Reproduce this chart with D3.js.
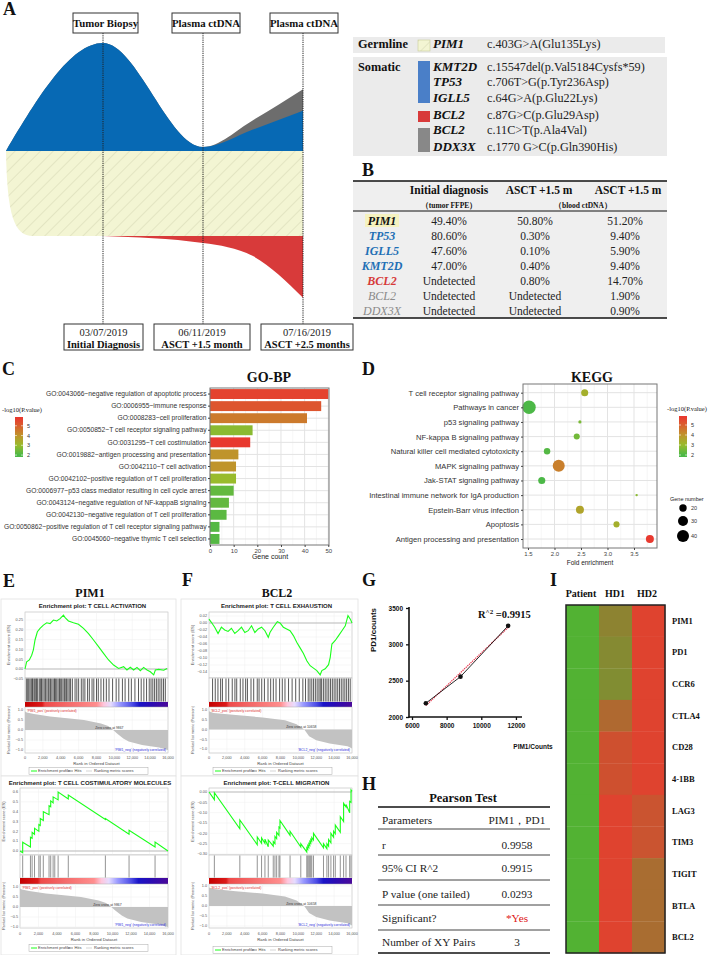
<!DOCTYPE html>
<html><head><meta charset="utf-8">
<script src="https://cdn.jsdelivr.net/npm/d3@7"></script>
<style>body{margin:0;background:#fff}</style>
</head><body><svg id="c" width="716" height="955"></svg>
<script>
// ================= DATA =================
// Panel A fish plot (clone sizes at time points)
const fishT = [-0.97, 0, 1, 1.5, 2];
const blueClone = [0, 80.6, 3, 16, 30];
const greyClone = [0, 0, 0, 7, 16];
const redClone = [0, 0, 5.2, 15, 46];
const topBoxes = ["Tumor Biopsy", "Plasma ctDNA", "Plasma ctDNA"];
const timeDates = ["03/07/2019", "06/11/2019", "07/16/2019"];
const timeLabels = ["Initial Diagnosis", "ASCT +1.5 month", "ASCT +2.5 months"];
// Panel A legend
const legGenes = ["PIM1", "KMT2D", "TP53", "IGLL5", "BCL2", "BCL2", "DDX3X"];
const legMut = ["c.403G>A(Glu135Lys)", "c.15547del(p.Val5184Cysfs*59)", "c.706T>G(p.Tyr236Asp)",
  "c.64G>A(p.Glu22Lys)", "c.87G>C(p.Glu29Asp)", "c.11C>T(p.Ala4Val)", "c.1770 G>C(p.Gln390His)"];
// Panel B table
const tabGenes = ["PIM1", "TP53", "IGLL5", "KMT2D", "BCL2", "BCL2", "DDX3X"];
const tabGroup = ["germ", "blue", "blue", "blue", "red", "grey", "grey"];
const tabHeaders = ["Initial diagnosis", "ASCT +1.5 m", "ASCT +1.5 m"];
const tabInitial = ["49.40%", "80.60%", "47.60%", "47.00%", "Undetected", "Undetected", "Undetected"];
const tabASCT1 = ["50.80%", "0.30%", "0.10%", "0.40%", "0.80%", "Undetected", "Undetected"];
const tabASCT2 = ["51.20%", "9.40%", "5.90%", "9.40%", "14.70%", "1.90%", "0.90%"];
// Panel C GO-BP
const goTerms = ["GO:0043066~negative regulation of apoptotic process", "GO:0006955~immune response",
  "GO:0008283~cell proliferation", "GO:0050852~T cell receptor signaling pathway", "GO:0031295~T cell costimulation",
  "GO:0019882~antigen processing and presentation", "GO:0042110~T cell activation",
  "GO:0042102~positive regulation of T cell proliferation", "GO:0006977~p53 class mediator resulting in cell cycle arrest",
  "GO:0043124~negative regulation of NF-kappaB signaling", "GO:0042130~negative regulation of T cell proliferation",
  "GO:0050862~positive regulation of T cell receptor signaling pathway", "GO:0045060~negative thymic T cell selection"];
const goCount = [50, 47, 41, 18, 17, 12, 11, 11, 10, 8, 7, 4, 4];
const goLogP = [5.6, 5.2, 4.5, 2.8, 5.8, 4.0, 4.0, 3.0, 2.3, 2.3, 2.2, 2.1, 2.1];
const countTicks = [0, 10, 20, 30, 40, 50];
// Panel D KEGG
const keggTerms = ["T cell receptor signaling pathway", "Pathways in cancer", "p53 signaling pathway",
  "NF-kappa B signaling pathway", "Natural killer cell mediated cytotoxicity", "MAPK signaling pathway",
  "Jak-STAT signaling pathway", "Intestinal immune network for IgA production", "Epstein-Barr virus infection",
  "Apoptosis", "Antigen processing and presentation"];
const keggFold = [2.57, 1.52, 2.48, 2.42, 1.86, 2.08, 1.76, 3.55, 2.48, 3.17, 3.8];
const keggGenes = [19, 48, 10, 16, 17, 40, 19, 9, 22, 16, 22];
const keggLogP = [3.3, 2.0, 2.6, 2.5, 2.1, 4.4, 2.0, 2.8, 3.6, 3.3, 5.8];
const foldTicks = [1.5, 2.0, 2.5, 3.0, 3.5];
const geneLegend = [20, 30, 40];
const pLegend = [5, 4, 3, 2];
// Panel E/F GSEA
const rankTicks = [0, 2000, 4000, 6000, 8000, 10000, 12000, 14000, 16000];
const esE1 = [[0,0],[187,0.037],[486,0.046],[748,0.07],[935,0.097],[1122,0.148],[1384,0.19],[1683,0.207],[2057,0.224],[2431,0.236],[2805,0.232],[3179,0.25],[3553,0.245],[3927,0.257],[4301,0.275],[4488,0.262],[4862,0.245],[5423,0.236],[5984,0.228],[6545,0.207],[7106,0.18],[7667,0.148],[8228,0.114],[8789,0.08],[9350,0.046],[9911,0.02],[10472,0.003],[11033,0.012],[11407,-0.005],[11781,0.009],[12155,-0.005],[12529,0.008],[12903,-0.009],[13277,0.008],[13651,-0.005],[14025,-0.014],[14399,-0.03],[14586,-0.005],[14960,-0.002],[15521,-0.006],[15895,0.003]];
const hitsE1 = [150,300,420,560,700,820,900,1050,1200,1300,1420,1600,1750,1850,2000,2150,2300,2450,2600,2700,2850,3000,3150,3300,3400,3550,3700,3850,3950,4100,4250,4400,4500,4650,4800,4950,5100,5300,5600,5800,6000,6300,6500,6700,7000,7200,7500,7700,8000,8200,8500,8800,9100,9400,9800,10200,10500,10900,11200,11600,11900,12300,12700,13000,13300,13600,13900,14100,14300,14500,14700,14900,15100,15300,15500,15700];
const esE2 = [[0,0],[290,-0.018],[290,0.088],[1130,0.04],[1130,0.14],[1310,0.13],[1310,0.19],[1570,0.17],[1570,0.23],[2040,0.2],[2040,0.27],[2190,0.26],[2190,0.33],[2520,0.31],[2520,0.4],[3140,0.37],[3140,0.46],[3320,0.45],[3320,0.51],[3580,0.49],[3580,0.55],[3760,0.54],[3760,0.54],[4120,0.52],[4120,0.6],[5220,0.53],[5220,0.57],[9230,0.32],[9230,0.33],[11790,0.17],[11790,0.21],[14600,0.04],[14600,0.09],[16000,0]];
const hitsE2 = [290,1130,1310,1570,2040,2190,2520,3140,3320,3580,3760,4120,5220,9230,11790,14600];
const esF1 = [[0,0.011],[262,0.002],[637,-0.012],[1012,-0.03],[1386,-0.012],[1761,-0.02],[2136,-0.024],[2510,-0.015],[2885,-0.03],[3260,-0.022],[3635,-0.012],[4009,-0.027],[4384,-0.022],[4759,-0.008],[5133,-0.027],[5508,-0.017],[5883,-0.012],[6257,-0.022],[6632,-0.041],[6820,-0.027],[7194,-0.012],[7644,0.004],[7944,0],[8318,-0.012],[8693,-0.017],[9068,-0.022],[9442,-0.036],[9817,-0.055],[10192,-0.071],[10567,-0.087],[10941,-0.108],[11316,-0.122],[11691,-0.129],[12065,-0.136],[12440,-0.148],[12627,-0.136],[13002,-0.131],[13377,-0.119],[13565,-0.098],[13752,-0.06],[14126,-0.05],[14501,-0.036],[14876,-0.022],[15250,-0.008],[15550,0.021],[15812,0.011],[16000,0]];
const hitsF1 = [400,700,1000,1300,1500,1900,2200,2600,2900,3100,3500,3800,4100,4300,4700,5000,5400,5600,5900,6200,6600,6900,7200,7500,7900,8200,8500,8900,9300,9700,10100,10500,10800,11100,11300,11500,11700,11900,12100,12300,12450,12600,12800,13000,13200,13400,13600,13800,14000,14200,14400,14600,14800,15000,15200,15400,15600,15800];
const esF2 = [[0,0],[600,-0.037],[600,-0.003],[3450,-0.178],[3450,-0.135],[5400,-0.255],[5400,-0.218],[5880,-0.248],[5880,-0.222],[6260,-0.248],[6260,-0.228],[6630,-0.265],[6630,-0.232],[7190,-0.262],[7190,-0.24],[7380,-0.25],[7380,-0.215],[7570,-0.226],[7570,-0.195],[7830,-0.21],[7830,-0.17],[7940,-0.175],[7940,-0.138],[9070,-0.21],[9070,-0.19],[10270,-0.266],[10270,-0.25],[10940,-0.29],[10940,-0.27],[11050,-0.277],[11050,-0.26],[11170,-0.268],[11170,-0.25],[11280,-0.257],[11280,-0.24],[11390,-0.247],[11390,-0.23],[11500,-0.237],[11500,-0.22],[11690,-0.232],[11690,-0.2],[12810,-0.27],[12810,-0.25],[13190,-0.274],[13190,-0.25],[13380,-0.262],[13380,-0.23],[13640,-0.246],[13640,-0.2],[13940,-0.219],[13940,-0.19],[14130,-0.202],[14130,-0.16],[14690,-0.195],[14690,-0.12],[15060,-0.143],[15060,-0.055],[15330,-0.072],[15330,-0.06],[15740,-0.1],[15740,-0.045],[15890,-0.05],[15890,0.01],[16000,0.003]];
const hitsF2 = [600,3450,5400,5880,6260,6630,7190,7380,7570,7830,7940,9070,10270,10940,11050,11170,11280,11390,11500,11690,12810,13190,13380,13640,13940,14130,14690,15060,15330,15740,15890];
const metricPIM1 = [[0,0.93],[200,0.87],[1000,0.8],[2800,0.67],[5000,0.57],[6600,0.5],[8500,0.33],[9300,0.2],[9867,0],[10300,-0.17],[11000,-0.42],[11600,-0.58],[13100,-0.75],[15000,-0.88],[15800,-0.98],[16000,-1.0]];
const metricBCL2 = [[0,0.93],[500,0.85],[3000,0.74],[6000,0.62],[8500,0.47],[9800,0.27],[10658,0],[11200,-0.35],[12000,-0.55],[13500,-0.72],[15500,-0.86],[15900,-0.95],[16000,-0.97]];
// Panel G
const pim1Counts = [6800, 8800, 11550];
const pd1Counts = [2190, 2555, 3255];
const gXTicks = [6000, 8000, 10000, 12000];
const gYTicks = [2000, 2500, 3000, 3500];
// Panel H
const pearsonParams = ["Parameters", "r", "95% CI R^2", "P value (one tailed)", "Significant?", "Number of XY Pairs"];
const pearsonValues = ["PIM1，PD1", "0.9958", "0.9915", "0.0293", "*Yes", "3"];
// Panel I heatmap (0 = green, 1 = red)
const heatGenes = ["PIM1", "PD1", "CCR6", "CTLA4", "CD28", "4-1BB", "LAG3", "TIM3", "TIGIT", "BTLA", "BCL2"];
const heatSamples = ["Patient", "HD1", "HD2"];
const heatPatient = [0, 0, 0, 0, 0, 0, 0, 0, 0, 0, 0];
const heatHD1 = [0.42, 0.36, 0.33, 0.66, 0.88, 0.88, 1, 1, 1, 1, 1];
const heatHD2 = [1, 1, 1, 1, 1, 1, 0.85, 0.85, 0.62, 0.62, 0.62];

// ================= DRAW =================
const SERIF = "'Liberation Serif','Times New Roman',serif";
const SANS = "'Liberation Sans',Arial,sans-serif";
const svg = d3.select("#c");
const defs = svg.append("defs");
const hatch = defs.append("pattern").attr("id", "hatch").attr("width", 9).attr("height", 9)
  .attr("patternUnits", "userSpaceOnUse").attr("patternTransform", "rotate(45)");
hatch.append("rect").attr("width", 9).attr("height", 9).attr("fill", "#f3f5d3");
hatch.append("line").attr("x1", 0).attr("y1", 0).attr("x2", 0).attr("y2", 9).attr("stroke", "#d3d6b2").attr("stroke-width", 1);

function txt(g, x, y, s, o = {}) {
  const t = g.append("text").attr("x", x).attr("y", y).text(s)
    .attr("font-family", o.ff || SERIF).attr("font-size", o.fs || 10)
    .attr("fill", o.fill || "#111").attr("text-anchor", o.anchor || "start");
  if (o.fw) t.attr("font-weight", o.fw);
  if (o.fst) t.attr("font-style", o.fst);
  if (o.rot) t.attr("transform", `rotate(${o.rot},${x},${y})`);
  return t;
}
const panelLabels = [["A", 3, 15], ["B", 362, 176], ["C", 2, 375], ["D", 362, 375], ["E", 3, 587], ["F", 182, 586], ["G", 362, 586], ["H", 362, 790], ["I", 550, 586]];
panelLabels.forEach(p => txt(svg, p[1], p[2], p[0], { fs: 18, fw: "bold" }));

// ---------- Panel A ----------
(function () {
  const g = svg.append("g");
  const x = d3.scaleLinear().domain([0, 2]).range([103, 303]);
  const base = 151, low = 236, k = 1.34;
  const pts = fishT.map((t, i) => ({ t, b: blueClone[i], gr: greyClone[i], r: redClone[i] }));
  g.append("path").datum(pts).attr("fill", "#6d6d6d")
    .attr("d", d3.area().x(d => x(d.t)).y0(base).y1(d => base - (d.b + d.gr) * k).curve(d3.curveMonotoneX));
  g.append("path").datum(pts).attr("fill", "#0769b4")
    .attr("d", d3.area().x(d => x(d.t)).y0(base).y1(d => base - d.b * k).curve(d3.curveMonotoneX));
  const p = d3.path();
  p.moveTo(x(fishT[0]), base); p.lineTo(x(2), base); p.lineTo(x(2), low); p.lineTo(33, low);
  p.bezierCurveTo(14, low, 7, 215, x(fishT[0]), base); p.closePath();
  g.append("path").attr("d", p.toString()).attr("fill", "url(#hatch)");
  g.append("path").datum(pts.slice(1)).attr("fill", "#d83a3a")
    .attr("d", d3.area().x(d => x(d.t)).y0(low).y1(d => low + d.r * k).curve(d3.curveMonotoneX));
  const topB = [[73, 138], [172, 240], [270, 338]];
  const botB = [[64, 143], [154, 250], [261, 353]];
  [0, 1, 2].forEach(i => {
    g.append("line").attr("x1", x(i)).attr("x2", x(i)).attr("y1", 33).attr("y2", 324)
      .attr("stroke", "#222").attr("stroke-width", 1).attr("stroke-dasharray", "1.2,1");
    g.append("rect").attr("x", topB[i][0]).attr("y", 13).attr("width", topB[i][1] - topB[i][0]).attr("height", 20)
      .attr("fill", "#fff").attr("stroke", "#333").attr("stroke-width", 1);
    txt(g, (topB[i][0] + topB[i][1]) / 2, 27, topBoxes[i], { fs: 10.8, fw: "bold", anchor: "middle" });
    g.append("rect").attr("x", botB[i][0]).attr("y", 324).attr("width", botB[i][1] - botB[i][0]).attr("height", 26)
      .attr("fill", "#fff").attr("stroke", "#333").attr("stroke-width", 1);
    txt(g, (botB[i][0] + botB[i][1]) / 2, 336, timeDates[i], { fs: 10.5, anchor: "middle", fill: "#222" });
    txt(g, (botB[i][0] + botB[i][1]) / 2, 348, timeLabels[i], { fs: 10.5, fw: "bold", anchor: "middle" });
  });
  g.append("rect").attr("x", 353).attr("y", 37).attr("width", 312).attr("height", 16).attr("fill", "#ebebeb");
  g.append("rect").attr("x", 353).attr("y", 57).attr("width", 314).attr("height", 99).attr("fill", "#ebebeb");
  txt(g, 358, 48, "Germline", { fs: 12.3, fw: "bold" });
  txt(g, 358, 71, "Somatic", { fs: 12.3, fw: "bold" });
  g.append("rect").attr("x", 418).attr("y", 40).attr("width", 12).attr("height", 11).attr("fill", "url(#hatch)").attr("stroke", "#c9cc9a").attr("stroke-width", 0.6);
  g.append("rect").attr("x", 418).attr("y", 61).attr("width", 12).attr("height", 42).attr("fill", "#4a7fc8");
  g.append("rect").attr("x", 418).attr("y", 111).attr("width", 12).attr("height", 11).attr("fill", "#d83a3a");
  g.append("rect").attr("x", 418).attr("y", 128).attr("width", 12).attr("height", 24).attr("fill", "#888");
  const legY = [48, 71, 86, 102, 119, 134, 151];
  legGenes.forEach((s, i) => {
    txt(g, 433, legY[i], s, { fs: 13, fw: "bold", fst: "italic" });
    txt(g, 487, legY[i], legMut[i], { fs: 12.2, fill: "#222" });
  });
})();

// ---------- Panel B ----------
(function () {
  const g = svg.append("g");
  g.append("rect").attr("x", 353).attr("y", 181).attr("width", 314).attr("height", 137).attr("fill", "#efefef");
  [[181, 1.5], [211, 1], [318, 1.5]].forEach(l => g.append("line").attr("x1", 353).attr("x2", 667).attr("y1", l[0]).attr("y2", l[0]).attr("stroke", "#111").attr("stroke-width", l[1]));
  const cx = [449, 535, 625];
  tabHeaders.forEach((h, i) => txt(g, [449, 539, 628][i], 194, h, { fs: 11.5, fw: "bold", anchor: "middle" }));
  txt(g, 449, 208, "（tumor FFPE）", { fs: 7.5, fw: "bold", anchor: "middle" });
  txt(g, 583, 208, "（blood ctDNA）", { fs: 7.5, fw: "bold", anchor: "middle" });
  const rowY = [225, 240, 255, 270, 285, 300, 315];
  const col = { germ: "#111", blue: "#1f6fb5", red: "#d63a3a", grey: "#8a8a8a" };
  g.append("rect").attr("x", 365).attr("y", 214).attr("width", 34).attr("height", 13).attr("fill", "#f5f2bf");
  tabGenes.forEach((s, i) => {
    txt(g, 382, rowY[i], s, { fs: 12, fw: tabGroup[i] === "grey" ? "normal" : "bold", fst: "italic", anchor: "middle", fill: col[tabGroup[i]] });
    txt(g, cx[0], rowY[i], tabInitial[i], { fs: 11.5, anchor: "middle", fill: "#222" });
    txt(g, cx[1], rowY[i], tabASCT1[i], { fs: 11.5, anchor: "middle", fill: "#222" });
    txt(g, cx[2], rowY[i], tabASCT2[i], { fs: 11.5, anchor: "middle", fill: "#222" });
  });
})();

const pScale = d3.scaleLinear().domain([2, 3, 4, 5, 5.8]).range(["#4cb847", "#99bb2c", "#bf942b", "#d95f2d", "#e8392f"]);
function pLegendDraw(g, tx, ty, bx, by0, by1, lx, id) {
  const grad = defs.append("linearGradient").attr("id", id).attr("x1", 0).attr("x2", 0).attr("y1", 1).attr("y2", 0);
  [2, 3, 4, 5, 5.8].forEach(v => grad.append("stop").attr("offset", (v - 1.8) / 4.1).attr("stop-color", pScale(v)));
  txt(g, tx, ty, "-log10(P.value)", { fs: 6.5, fill: "#222" });
  g.append("rect").attr("x", bx).attr("y", by0).attr("width", 8).attr("height", by1 - by0).attr("fill", `url(#${id})`);
  const sy = d3.scaleLinear().domain([1.8, 5.9]).range([by1, by0]);
  pLegend.forEach(v => {
    g.append("line").attr("x1", bx).attr("x2", bx + 2).attr("y1", sy(v)).attr("y2", sy(v)).attr("stroke", "#fff").attr("stroke-width", 0.6);
    g.append("line").attr("x1", bx + 6).attr("x2", bx + 8).attr("y1", sy(v)).attr("y2", sy(v)).attr("stroke", "#fff").attr("stroke-width", 0.6);
    txt(g, lx, sy(v) + 2, v, { fs: 5.5, ff: SANS, fill: "#333" });
  });
}

// ---------- Panel C ----------
(function () {
  const g = svg.append("g");
  const x = d3.scaleLinear().domain([0, 50.3]).range([210, 329]);
  const y = d3.scaleBand().domain(goTerms).range([388, 545]).paddingInner(0.18).paddingOuter(0.09);
  g.append("rect").attr("x", 210).attr("y", 388).attr("width", 119).attr("height", 157).attr("fill", "#fff");
  [5, 15, 25, 35, 45].forEach(v => g.append("line").attr("x1", x(v)).attr("x2", x(v)).attr("y1", 388).attr("y2", 545).attr("stroke", "#f0f0f0").attr("stroke-width", 0.6));
  countTicks.forEach(v => g.append("line").attr("x1", x(v)).attr("x2", x(v)).attr("y1", 388).attr("y2", 545).attr("stroke", "#e3e3e3").attr("stroke-width", 1));
  goTerms.forEach(t => g.append("line").attr("x1", 210).attr("x2", 329).attr("y1", y(t) + y.bandwidth() / 2).attr("y2", y(t) + y.bandwidth() / 2).attr("stroke", "#e3e3e3"));
  g.selectAll(".bar").data(goTerms).join("rect").attr("x", x(0)).attr("y", d => y(d))
    .attr("width", (d, i) => x(goCount[i]) - x(0)).attr("height", y.bandwidth()).attr("fill", (d, i) => pScale(goLogP[i]));
  g.append("rect").attr("x", 210).attr("y", 388).attr("width", 119).attr("height", 157).attr("fill", "none").attr("stroke", "#777").attr("stroke-width", 1);
  const ax = g.append("g").attr("transform", "translate(0,545)").call(d3.axisBottom(x).tickValues(countTicks).tickSize(2));
  ax.select(".domain").remove();
  ax.selectAll("text").attr("font-size", 6).attr("font-family", SANS).attr("fill", "#444").attr("dy", "0.5em");
  ax.selectAll("line").attr("stroke", "#444");
  const ay = g.append("g").attr("transform", "translate(210,0)").call(d3.axisLeft(y).tickSize(2).tickPadding(1.5));
  ay.select(".domain").remove();
  ay.selectAll("text").attr("font-size", 6.7).attr("font-family", SANS).attr("fill", "#333");
  ay.selectAll("line").attr("stroke", "#444");
  txt(g, 270, 559, "Gene count", { fs: 7, ff: SANS, anchor: "middle", fill: "#222" });
  txt(g, 269, 382, "GO-BP", { fs: 14, fw: "bold", anchor: "middle" });
  pLegendDraw(g, 2, 412, 15, 417, 457, 27, "gradC");
})();

// ---------- Panel D ----------
(function () {
  const g = svg.append("g");
  const x = d3.scaleLinear().domain([1.406, 3.934]).range([523, 657]);
  const y = d3.scalePoint().domain(keggTerms).range([383.9, 547.8]).padding(0.6);
  const area = d3.scaleLinear().domain([20, 40]).range([13.7, 36]);
  const r = n => Math.sqrt(Math.max(1.2, area(n)));
  g.append("rect").attr("x", 523).attr("y", 384).attr("width", 134).attr("height", 164).attr("fill", "#fff");
  [1.75, 2.25, 2.75, 3.25, 3.75].forEach(v => g.append("line").attr("x1", x(v)).attr("x2", x(v)).attr("y1", 384).attr("y2", 548).attr("stroke", "#f0f0f0").attr("stroke-width", 0.6));
  foldTicks.forEach(v => g.append("line").attr("x1", x(v)).attr("x2", x(v)).attr("y1", 384).attr("y2", 548).attr("stroke", "#e3e3e3"));
  keggTerms.forEach(t => g.append("line").attr("x1", 523).attr("x2", 657).attr("y1", y(t)).attr("y2", y(t)).attr("stroke", "#e3e3e3"));
  g.selectAll(".dot").data(keggTerms).join("circle").attr("cx", (d, i) => x(keggFold[i])).attr("cy", d => y(d))
    .attr("r", (d, i) => r(keggGenes[i])).attr("fill", (d, i) => pScale(keggLogP[i]));
  g.append("rect").attr("x", 523).attr("y", 384).attr("width", 134).attr("height", 164).attr("fill", "none").attr("stroke", "#777");
  const ax = g.append("g").attr("transform", "translate(0,548)").call(d3.axisBottom(x).tickValues(foldTicks).tickFormat(d3.format(".1f")).tickSize(2));
  ax.select(".domain").remove();
  ax.selectAll("text").attr("font-size", 6).attr("font-family", SANS).attr("fill", "#444").attr("dy", "0.5em");
  ax.selectAll("line").attr("stroke", "#444");
  const ay = g.append("g").attr("transform", "translate(523,0)").call(d3.axisLeft(y).tickSize(2).tickPadding(2));
  ay.select(".domain").remove();
  ay.selectAll("text").attr("font-size", 7.6).attr("font-family", SANS).attr("fill", "#333");
  ay.selectAll("line").attr("stroke", "#444");
  txt(g, 590, 565, "Fold enrichment", { fs: 6.5, ff: SANS, anchor: "middle", fill: "#222" });
  txt(g, 592, 382, "KEGG", { fs: 14, fw: "bold", anchor: "middle" });
  pLegendDraw(g, 667, 411, 679, 416, 457, 691, "gradD");
  txt(g, 670, 501, "Gene number", { fs: 5.5, ff: SANS, fill: "#222" });
  const gy = [508, 521, 536];
  geneLegend.forEach((n, i) => {
    g.append("circle").attr("cx", 683).attr("cy", gy[i]).attr("r", r(n)).attr("fill", "#000");
    txt(g, 691, gy[i] + 2, n, { fs: 5.5, ff: SANS, fill: "#333" });
  });
})();

// ---------- Panels E / F (GSEA) ----------
const rg = defs.append("linearGradient").attr("id", "rankGrad");
[[0, "#c40000"], [0.12, "#dc1a1a"], [0.14, "#ef4a4a"], [0.3, "#f46a6a"], [0.5, "#ff8e8e"], [0.55, "#ffc6dc"], [0.6, "#e6dcff"], [0.66, "#9a9aff"], [0.75, "#4d4de6"], [0.8, "#1a14c8"], [0.88, "#2a0cb4"], [1, "#4a0a9a"]]
  .forEach(s => rg.append("stop").attr("offset", s[0]).attr("stop-color", s[1]));

function gsea(c) {
  const g = svg.append("g");
  const x = d3.scaleLinear().domain([0, 16000]).range([c.x0, c.x1]);
  const ye = d3.scaleLinear().domain([c.esRef[0][0], c.esRef[1][0]]).range([c.esRef[0][1], c.esRef[1][1]]);
  const ym = d3.scaleLinear().domain([1, -1]).range(c.mRef);
  const W = c.x1 - c.x0;
  g.append("rect").attr("x", c.fx0).attr("y", c.fy0).attr("width", c.fx1 - c.fx0).attr("height", c.fy1 - c.fy0).attr("fill", "#fff").attr("stroke", "#e2e2e2").attr("stroke-width", 0.8);
  txt(g, (c.x0 + c.x1) / 2 - 4, c.ty, c.title, { fs: 6, ff: SANS, fw: "bold", anchor: "middle", fill: "#222" });
  g.append("rect").attr("x", c.x0).attr("y", c.esTop).attr("width", W).attr("height", c.esBot - c.esTop).attr("fill", "#fff").attr("stroke", "#aaa").attr("stroke-width", 0.5);
  rankTicks.forEach(r => g.append("line").attr("x1", x(r)).attr("x2", x(r)).attr("y1", c.esTop).attr("y2", c.esBot).attr("stroke", "#eee").attr("stroke-width", 0.5));
  c.esTicks.forEach(v => {
    g.append("line").attr("x1", c.x0).attr("x2", c.x1).attr("y1", ye(v)).attr("y2", ye(v)).attr("stroke", "#eee").attr("stroke-width", 0.5);
    txt(g, c.x0 - 2, ye(v) + 1.3, d3.format(c.fmt)(v), { fs: 3.8, ff: SANS, anchor: "end", fill: "#555" });
  });
  g.append("line").attr("x1", c.x0).attr("x2", c.x1).attr("y1", ye(0)).attr("y2", ye(0)).attr("stroke", "#bbb").attr("stroke-width", 1);
  g.append("path").datum(c.es).attr("fill", "none").attr("stroke", "#1aff1a").attr("stroke-width", 1.1)
    .attr("d", d3.line().x(d => x(d[0])).y(d => ye(d[1])));
  txt(g, c.x0 - 15, (c.esTop + c.esBot) / 2, "Enrichment score (ES)", { fs: 4, ff: SANS, anchor: "middle", fill: "#555", rot: -90 });
  g.append("rect").attr("x", c.x0).attr("y", c.esBot).attr("width", W).attr("height", c.hitsBot - c.esBot).attr("fill", "#fff").attr("stroke", "#aaa").attr("stroke-width", 0.5);
  c.hits.forEach(h => g.append("line").attr("x1", x(h)).attr("x2", x(h)).attr("y1", c.esBot + 0.5).attr("y2", c.hitsBot - 0.5).attr("stroke", c.hitCol).attr("stroke-width", 0.7));
  g.append("rect").attr("x", c.x0).attr("y", c.hitsBot).attr("width", W).attr("height", c.barBot - c.hitsBot).attr("fill", "url(#rankGrad)");
  g.append("rect").attr("x", c.x0).attr("y", c.barBot).attr("width", W).attr("height", c.rankBot - c.barBot).attr("fill", "#fff").attr("stroke", "#aaa").attr("stroke-width", 0.5);
  rankTicks.forEach(r => g.append("line").attr("x1", x(r)).attr("x2", x(r)).attr("y1", c.barBot).attr("y2", c.rankBot).attr("stroke", "#eee").attr("stroke-width", 0.5));
  [1, 0.5, 0, -0.5, -1].forEach(v => {
    g.append("line").attr("x1", c.x0).attr("x2", c.x1).attr("y1", ym(v)).attr("y2", ym(v)).attr("stroke", "#eee").attr("stroke-width", 0.5);
    txt(g, c.x0 - 2, ym(v) + 1.3, d3.format(".1f")(v), { fs: 3.8, ff: SANS, anchor: "end", fill: "#555" });
  });
  g.append("path").datum(c.metric).attr("fill", "#c2c2c2")
    .attr("d", d3.area().x(d => x(d[0])).y0(ym(0)).y1(d => ym(d[1])));
  txt(g, c.x0 + 2, c.barBot + 4.5, `'${c.gene}_pos' (positively correlated)`, { fs: 3.4, ff: SANS, fill: "#e03030" });
  txt(g, x(c.zero) - 18, ym(0) - 1.5, `Zero cross at ${c.zero}`, { fs: 3.4, ff: SANS, fill: "#333" });
  txt(g, c.x1 - 2, c.rankBot - 2.5, `'${c.gene}_neg' (negatively correlated)`, { fs: 3.4, ff: SANS, fill: "#3030e0", anchor: "end" });
  txt(g, c.x0 - 15, (c.barBot + c.rankBot) / 2, "Ranked list metric (Pearson)", { fs: 3.8, ff: SANS, anchor: "middle", fill: "#555", rot: -90 });
  rankTicks.forEach(r => txt(g, x(r), c.axisY, d3.format(",")(r), { fs: 3.8, ff: SANS, anchor: "middle", fill: "#555" }));
  txt(g, (c.x0 + c.x1) / 2, c.rlY, "Rank in Ordered Dataset", { fs: 4.2, ff: SANS, anchor: "middle", fill: "#444" });
  const lx = c.lx, ly = c.legY;
  g.append("rect").attr("x", lx).attr("y", ly - 3.5).attr("width", 119).attr("height", 7).attr("fill", "#fff").attr("stroke", "#aaa").attr("stroke-width", 0.5);
  g.append("line").attr("x1", lx + 2).attr("x2", lx + 8).attr("y1", ly).attr("y2", ly).attr("stroke", "#1aff1a").attr("stroke-width", 1);
  txt(g, lx + 9, ly + 1.4, "Enrichment profile", { fs: 4, ff: SANS, fill: "#444" });
  g.append("line").attr("x1", lx + 39).attr("x2", lx + 44).attr("y1", ly).attr("y2", ly).attr("stroke", "#444").attr("stroke-width", 0.6);
  txt(g, lx + 45.5, ly + 1.4, "Hits", { fs: 4, ff: SANS, fill: "#444" });
  g.append("line").attr("x1", lx + 57).attr("x2", lx + 63).attr("y1", ly).attr("y2", ly).attr("stroke", "#bbb").attr("stroke-width", 0.6);
  txt(g, lx + 65, ly + 1.4, "Ranking metric scores", { fs: 4, ff: SANS, fill: "#444" });
}
txt(svg, 90, 597, "PIM1", { fs: 12, fw: "bold", anchor: "middle" });
txt(svg, 277, 597, "BCL2", { fs: 12, fw: "bold", anchor: "middle" });
gsea({ fx0: 1, fx1: 176, fy0: 599, fy1: 776, x0: 25, x1: 168, ty: 608, title: "Enrichment plot: T CELL ACTIVATION",
  esTop: 612, esBot: 678, esRef: [[0.25, 620], [0, 669]], esTicks: [-0.05, 0, 0.05, 0.1, 0.15, 0.2, 0.25], fmt: ".2f", es: esE1,
  hitsBot: 702, barBot: 707, rankBot: 753, mRef: [710, 750], hits: hitsE1, hitCol: "#111", metric: metricPIM1, zero: 9867, gene: "PIM1",
  axisY: 759, rlY: 765, lx: 29, legY: 771 });
gsea({ fx0: 1, fx1: 176, fy0: 776, fy1: 955, x0: 20, x1: 168, ty: 785, title: "Enrichment plot: T CELL COSTIMULATORY MOLECULES",
  esTop: 788, esBot: 855, esRef: [[0.6, 792], [0, 851]], esTicks: [0, 0.1, 0.2, 0.3, 0.4, 0.5, 0.6], fmt: ".1f", es: esE2,
  hitsBot: 878, barBot: 884, rankBot: 928, mRef: [887, 927], hits: hitsE2, hitCol: "#666", metric: metricPIM1, zero: 9867, gene: "PIM1",
  axisY: 935, rlY: 941, lx: 29, legY: 948 });
gsea({ fx0: 181, fx1: 358, fy0: 599, fy1: 776, x0: 209, x1: 352, ty: 608, title: "Enrichment plot: T CELL EXHAUSTION",
  esTop: 612, esBot: 678, esRef: [[0.02, 616], [-0.14, 672]], esTicks: [0.02, 0, -0.02, -0.04, -0.06, -0.08, -0.1, -0.12, -0.14], fmt: ".2f", es: esF1,
  hitsBot: 702, barBot: 707, rankBot: 753, mRef: [710, 749], hits: hitsF1, hitCol: "#111", metric: metricBCL2, zero: 10658, gene: "BCL2",
  axisY: 759, rlY: 765, lx: 213, legY: 771 });
gsea({ fx0: 181, fx1: 358, fy0: 776, fy1: 955, x0: 209, x1: 352, ty: 785, title: "Enrichment plot: T-CELL MIGRATION",
  esTop: 788, esBot: 855, esRef: [[0, 792], [-0.3, 854]], esTicks: [0, -0.05, -0.1, -0.15, -0.2, -0.25, -0.3], fmt: ".2f", es: esF2,
  hitsBot: 878, barBot: 884, rankBot: 928, mRef: [886, 926], hits: hitsF2, hitCol: "#666", metric: metricBCL2, zero: 10658, gene: "BCL2",
  axisY: 935, rlY: 941, lx: 213, legY: 950 });

// ---------- Panel G ----------
(function () {
  const g = svg.append("g");
  const x = d3.scaleLinear().domain([5850, 12350]).range([409.4, 522]);
  const y = d3.scaleLinear().domain([2000, 3500]).range([717, 608]);
  const ax = g.append("g").attr("transform", "translate(0,717)").call(d3.axisBottom(x).tickValues(gXTicks).tickFormat(d3.format("d")).tickSize(3));
  const ay = g.append("g").attr("transform", "translate(409,0)").call(d3.axisLeft(y).tickValues(gYTicks).tickFormat(d3.format("d")).tickSize(3));
  [ax, ay].forEach(a => {
    a.select(".domain").remove();
    a.selectAll("line").attr("stroke", "#111").attr("stroke-width", 1.3);
    a.selectAll("text").attr("font-family", SANS).attr("font-weight", "bold").attr("font-size", 6.5).attr("fill", "#111");
  });
  g.append("line").attr("x1", 408.5).attr("x2", 522).attr("y1", 717).attr("y2", 717).attr("stroke", "#111").attr("stroke-width", 1.6);
  g.append("line").attr("x1", 409).attr("x2", 409).attr("y1", 607).attr("y2", 717.8).attr("stroke", "#111").attr("stroke-width", 1.6);
  const pts = pim1Counts.map((v, i) => [v, pd1Counts[i]]);
  const mx = d3.mean(pim1Counts), my = d3.mean(pd1Counts);
  const slope = d3.sum(pts, p => (p[0] - mx) * (p[1] - my)) / d3.sum(pts, p => (p[0] - mx) ** 2);
  const ic = my - slope * mx;
  const ex = d3.extent(pim1Counts);
  g.append("line").attr("x1", x(ex[0])).attr("y1", y(ic + slope * ex[0])).attr("x2", x(ex[1])).attr("y2", y(ic + slope * ex[1]))
    .attr("stroke", "#e8334a").attr("stroke-width", 1.2).attr("stroke-dasharray", "1.3,0.9");
  g.append("path").datum(pts).attr("fill", "none").attr("stroke", "#111").attr("stroke-width", 0.9)
    .attr("d", d3.line().x(d => x(d[0])).y(d => y(d[1])));
  g.selectAll(".pt").data(pts).join("circle").attr("cx", d => x(d[0])).attr("cy", d => y(d[1])).attr("r", 2.3).attr("fill", "#111");
  txt(g, 376, 630, "PD1/counts", { fs: 8, ff: SANS, fw: "bold", anchor: "middle", rot: -90 });
  txt(g, 533, 749, "PIM1/Counts", { fs: 6.5, ff: SANS, fw: "bold", anchor: "middle" });
  const t = txt(g, 478, 618, "R", { fs: 10.5, fw: "bold" });
  t.append("tspan").attr("dy", -4).attr("font-size", 7).text("^2");
  t.append("tspan").attr("dy", 4).text(" =0.9915");
})();

// ---------- Panel H ----------
(function () {
  const g = svg.append("g");
  txt(g, 463, 802, "Pearson Test", { fs: 12.5, fw: "bold", anchor: "middle" });
  const lines = [807, 829, 855, 880, 905, 930, 953];
  lines.forEach((ly, i) => g.append("line").attr("x1", 378).attr("x2", 550).attr("y1", ly).attr("y2", ly)
    .attr("stroke", "#111").attr("stroke-width", (i === 0 || i === lines.length - 1) ? 1.5 : 0.8));
  const rowY = [824, 849, 872, 898, 922, 946];
  pearsonParams.forEach((p, i) => {
    txt(g, 382, rowY[i], p, { fs: 11.3, fill: "#222" });
    txt(g, 517, rowY[i], pearsonValues[i], { fs: 11.3, anchor: "middle", fill: i === 4 ? "#e02020" : "#222" });
  });
})();

// ---------- Panel I ----------
(function () {
  const g = svg.append("g");
  const x = d3.scaleBand().domain(heatSamples).range([566, 665]);
  const y = d3.scaleBand().domain(heatGenes).range([605, 953]);
  const col = d3.interpolateRgb("#52b233", "#df432f");
  const vals = [heatPatient, heatHD1, heatHD2];
  heatSamples.forEach((s, j) => heatGenes.forEach((gname, i) => {
    g.append("rect").attr("x", x(s)).attr("y", y(gname)).attr("width", x.bandwidth() + 0.3).attr("height", y.bandwidth() + 0.3).attr("fill", col(vals[j][i]));
  }));
  g.append("rect").attr("x", 566).attr("y", 605).attr("width", 99).attr("height", 348).attr("fill", "none").attr("stroke", "#222").attr("stroke-width", 1.5);
  const hx = [581, 615, 647];
  heatSamples.forEach((s, j) => txt(g, hx[j], 597, s, { fs: 10, fw: "bold", anchor: "middle" }));
  heatGenes.forEach(gname => txt(g, 672, y(gname) + y.bandwidth() / 2 + 3, gname, { fs: 8.5, fw: "bold" }));
})();
</script></body></html>
